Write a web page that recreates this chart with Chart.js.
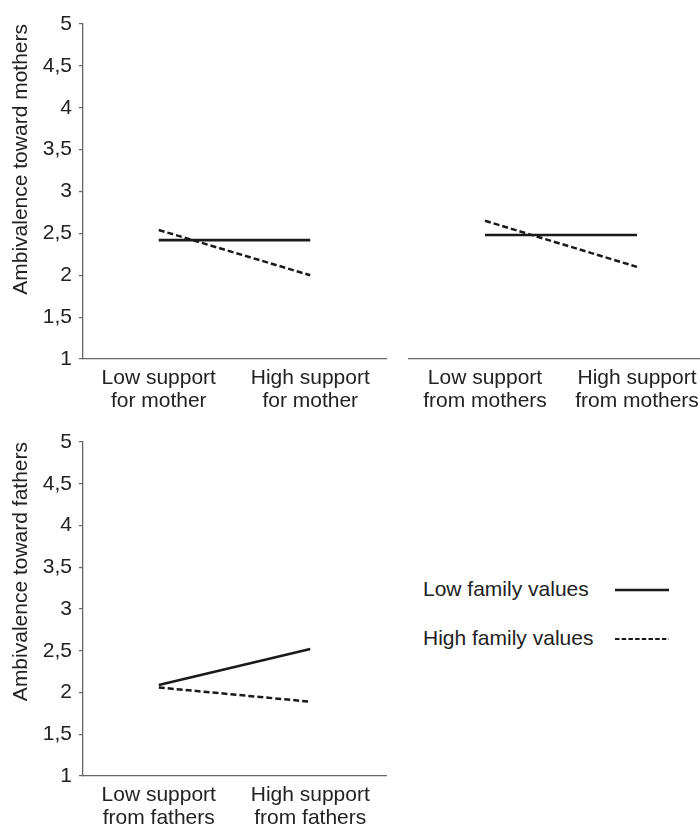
<!DOCTYPE html>
<html>
<head>
<meta charset="utf-8">
<script src="https://cdn.jsdelivr.net/npm/chart.js@4/dist/chart.umd.min.js"></script>
<style>
  html, body { margin: 0; padding: 0; background: #fff; overflow: hidden; width: 700px; height: 832px; }
  canvas { position: absolute; }
  #legend { position: absolute; left: 423px; top: 570px; font-family: "Liberation Sans", Arial, sans-serif; font-size: 21px; color: #222; }
  .row { position: absolute; left: 0; white-space: nowrap; height: 24px; line-height: 24px; }
  .row svg { position: absolute; left: 192px; top: 0; }
</style>
</head>
<body>
<canvas id="chartTopLeft" width="400" height="420" style="left:0;top:0"></canvas>
<canvas id="chartTopRight" width="330" height="420" style="left:400px;top:0"></canvas>
<canvas id="chartBottom" width="400" height="412" style="left:0;top:420px"></canvas>
<div id="legend">
  <div class="row" style="top:7px">Low family values
    <svg width="56" height="24"><line x1="0" y1="13" x2="54" y2="13" stroke="#1a1a1a" stroke-width="2.6"/></svg>
  </div>
  <div class="row" style="top:56px">High family values
    <svg width="56" height="24"><line x1="0" y1="13" x2="54" y2="13" stroke="#1a1a1a" stroke-width="2" stroke-dasharray="4.5,2.2"/></svg>
  </div>
</div>
<script>
// categories
var catsForMother = [['Low support', 'for mother'], ['High support', 'for mother']];
var catsFromMothers = [['Low support', 'from mothers'], ['High support', 'from mothers']];
var catsFromFathers = [['Low support', 'from fathers'], ['High support', 'from fathers']];

// series values
var lowFamForMother = [2.42, 2.42];
var highFamForMother = [2.54, 2.0];
var lowFamFromMothers = [2.48, 2.48];
var highFamFromMothers = [2.65, 2.10];
var lowFamFromFathers = [2.09, 2.52];
var highFamFromFathers = [2.06, 1.89];

var seriesNames = ['Low family values', 'High family values'];

var FONT = '"Liberation Sans", Arial, sans-serif';
var TEXT = '#222';
var AXIS = '#666';

function makeChart(id, cats, low, high, opt) {
  var ctx = document.getElementById(id).getContext('2d');
  return new Chart(ctx, {
    type: 'line',
    data: {
      labels: cats,
      datasets: [
        { label: seriesNames[0], data: low, borderColor: '#1a1a1a', borderWidth: 2.6, pointRadius: 0, fill: false },
        { label: seriesNames[1], data: high, borderColor: '#1a1a1a', borderWidth: 2.5, borderDash: [6, 3], pointRadius: 0, fill: false }
      ]
    },
    options: {
      responsive: false,
      animation: false,
      layout: { padding: opt.padding },
      plugins: { legend: { display: false }, tooltip: { enabled: false } },
      scales: {
        x: {
          offset: true,
          grid: { display: false, drawTicks: false },
          border: { display: true, color: AXIS, width: 1.3 },
          ticks: { color: TEXT, padding: 8, maxRotation: 0, autoSkip: false, font: { family: FONT, size: 21, lineHeight: 1.1 } },
          afterFit: function (s) { s.height = opt.xHeight; }
        },
        y: {
          display: opt.showY,
          min: 1,
          max: 5,
          grid: { drawOnChartArea: false, drawTicks: true, tickLength: 4, color: AXIS, lineWidth: 1.2 },
          border: { display: true, color: AXIS, width: 1.3 },
          ticks: {
            stepSize: 0.5,
            padding: 7,
            color: TEXT,
            font: { family: FONT, size: 21 },
            callback: function (v) { return String(v).replace('.', ','); }
          },
          title: {
            display: !!opt.yTitle,
            text: opt.yTitle || '',
            align: 'end',
            color: TEXT,
            padding: { top: 9, bottom: 0 },
            font: { family: FONT, size: 21 }
          },
          afterFit: function (s) { s.width = opt.showY ? 83 : 0; }
        }
      }
    }
  });
}

makeChart('chartTopLeft', catsForMother, lowFamForMother, highFamForMother, {
  padding: { top: 24, right: 14, left: 0, bottom: 0 }, xHeight: 61, showY: true, yTitle: 'Ambivalence toward mothers'
});
makeChart('chartTopRight', catsFromMothers, lowFamFromMothers, highFamFromMothers, {
  padding: { top: 24, right: 17, left: 9, bottom: 0 }, xHeight: 61, showY: false
});
makeChart('chartBottom', catsFromFathers, lowFamFromFathers, highFamFromFathers, {
  padding: { top: 22, right: 14, left: 0, bottom: 0 }, xHeight: 56, showY: true, yTitle: 'Ambivalence toward fathers'
});
</script>
</body>
</html>
